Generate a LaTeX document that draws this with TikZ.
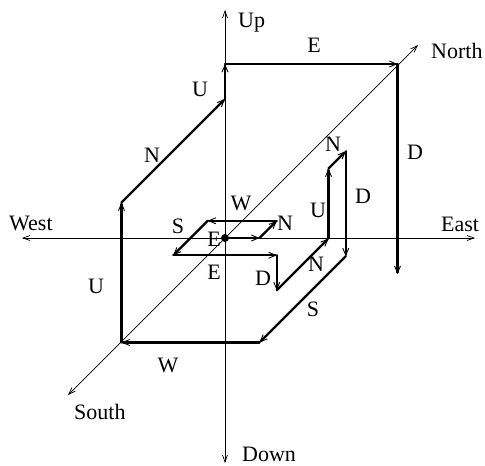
\documentclass[tikz,border=0pt]{standalone}
\usepackage{fontspec}
\setmainfont{Liberation Serif}
\usetikzlibrary{arrows.meta}
\begin{document}
\begin{tikzpicture}[x=1pt,y=-1pt,
  axis/.style={line width=0.7pt, -{Straight Barb[length=7pt,width=5pt,line width=0.7pt]}},
  seg/.style={line width=2.3pt, line cap=round, -{Straight Barb[length=7pt,width=6pt,line width=0.9pt]}},
  lbl/.style={font=\fontsize{22}{25}\selectfont, inner sep=0pt}]
\useasboundingbox (0,0) rectangle (485,466);
% axes
\coordinate (o) at (225,238);
\coordinate (west) at (22,238);
\coordinate (east) at (475,238);
\coordinate (up) at (225,10);
\coordinate (down) at (225,463);
\coordinate (south) at (68,395);
\coordinate (north) at (418,45);
\draw[axis] (o) -- (west);
\draw[axis] (o) -- (east);
\draw[axis] (o) -- (up);
\draw[axis] (o) -- (down);
\draw[axis] (o) -- (south);
\draw[axis] (o) -- (north);
\node[lbl, anchor=base west] (tUp) at (238,27) {Up};
\node[lbl, anchor=base west] (tDown) at (242,461) {Down};
\node[lbl, anchor=base west] (tWest) at (9,230) {West};
\node[lbl, anchor=base west] (tEast) at (441,231) {East};
\node[lbl, anchor=base west] (tNorth) at (431,58) {North};
\node[lbl, anchor=base west] (tSouth) at (74,419) {South};
% walk points (E, N, U)
\begin{scope}[shift={(225,238)}, x={(34.5pt,0pt)}, y={(17.25pt,17.25pt)}, z={(0pt,35pt)}]
\coordinate (p0) at (0,0,0);
\coordinate (p1) at (1,0,0);
\coordinate (p2) at (1,1,0);
\coordinate (p3) at (-1,1,0);
\coordinate (p4) at (-1,-1,0);
\coordinate (p5) at (2,-1,0);
\coordinate (p6) at (2,-1,-1);
\coordinate (p7) at (2,2,-1);
\coordinate (p8) at (2,2,1);
\coordinate (p9) at (2,3,1);
\coordinate (p10) at (2,3,-2);
\coordinate (p11) at (2,-2,-2);
\coordinate (p12) at (-2,-2,-2);
\coordinate (p13) at (-2,-2,2);
\coordinate (p14) at (-2,4,2);
\coordinate (p15) at (-2,4,3);
\coordinate (p16) at (3,4,3);
\coordinate (p17) at (3,4,-3);
\end{scope}
\draw[seg] (p0) -- (p1);
\draw[seg] (p1) -- (p2);
\draw[seg] (p2) -- (p3);
\draw[seg] (p3) -- (p4);
\draw[seg] (p4) -- (p5);
\draw[seg] (p5) -- (p6);
\draw[seg] (p6) -- (p7);
\draw[seg] (p7) -- (p8);
\draw[seg] (p8) -- (p9);
\draw[seg] (p9) -- (p10);
\draw[seg] (p10) -- (p11);
\draw[seg] (p11) -- (p12);
\draw[seg] (p12) -- (p13);
\draw[seg] (p13) -- (p14);
\draw[seg] (p14) -- (p15);
\draw[seg] (p15) -- (p16);
\draw[seg] (p16) -- (p17);
\node[circle, fill, inner sep=0pt, minimum size=8pt] (dot) at (p0) {};
% segment labels
\node[lbl] (lE1) at (214,239) {E};
\node[lbl] (lN1) at (285,223) {N};
\node[lbl] (lW1) at (241,203) {W};
\node[lbl] (lS1) at (178,226) {S};
\node[lbl] (lE2) at (214,272) {E};
\node[lbl] (lD1) at (263,278) {D};
\node[lbl] (lN2) at (316,264) {N};
\node[lbl] (lU1) at (318,210) {U};
\node[lbl] (lN3) at (333,144) {N};
\node[lbl] (lD2) at (363,196) {D};
\node[lbl] (lS2) at (313,309) {S};
\node[lbl] (lW2) at (168,365) {W};
\node[lbl] (lU2) at (96,286) {U};
\node[lbl] (lN4) at (152,155) {N};
\node[lbl] (lU3) at (200,89) {U};
\node[lbl] (lE3) at (314,45) {E};
\node[lbl] (lD3) at (415,152) {D};
\end{tikzpicture}
\end{document}
